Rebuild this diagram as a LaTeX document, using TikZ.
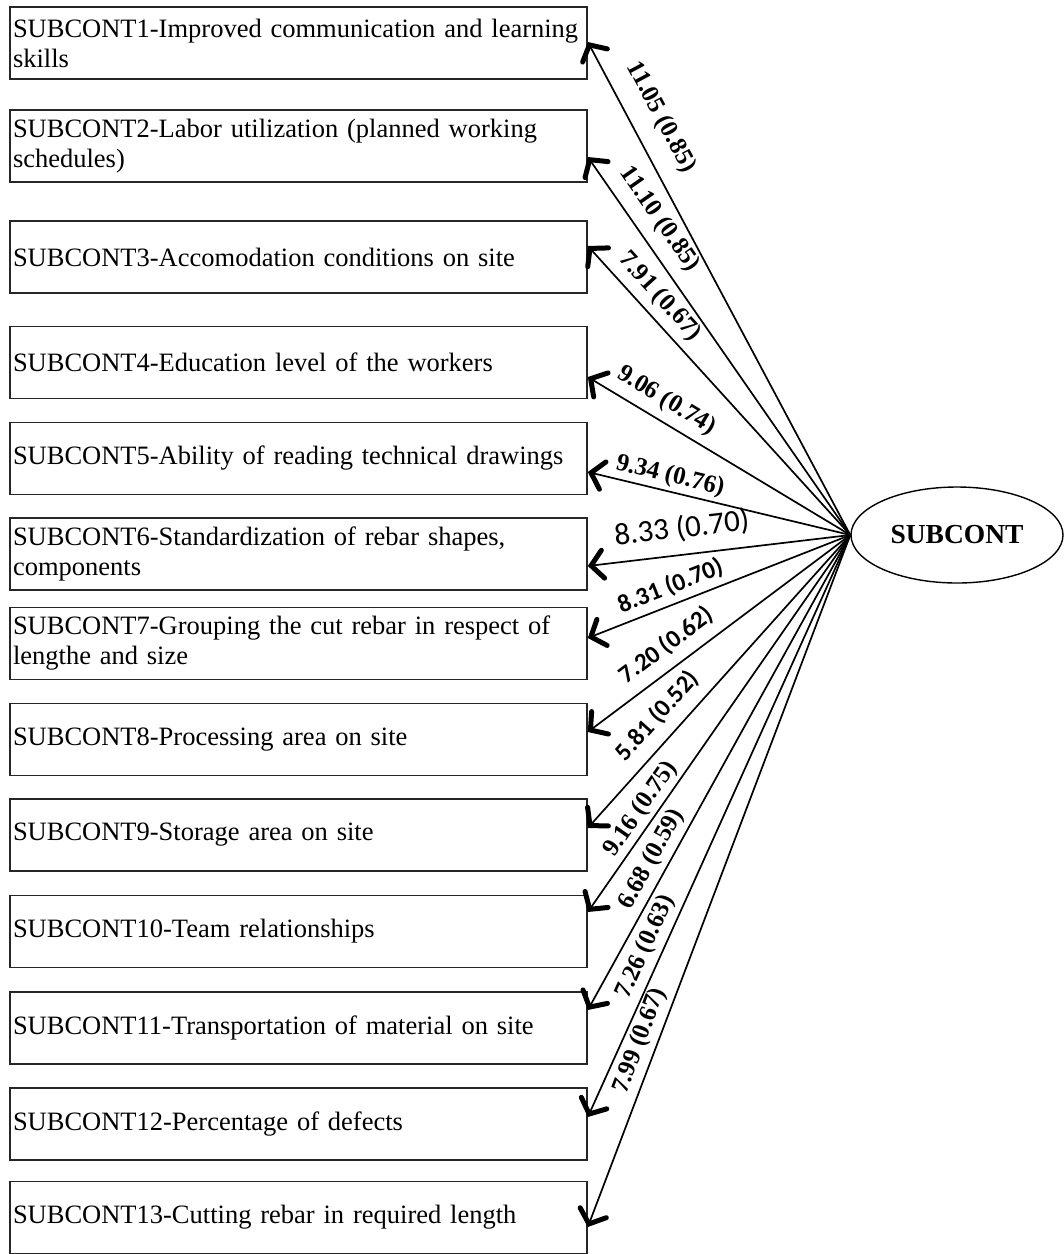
\documentclass[tikz,border=0pt]{standalone}
\usepackage{fontspec}
\setmainfont{Liberation Serif}
\newfontfamily\labsans{Carlito}
\usetikzlibrary{arrows.meta,shapes.geometric}

\begin{document}
\begin{tikzpicture}[x=1pt,y=-1pt,
  item/.style={draw=black!85, line width=1.6pt, rectangle,
    minimum width=577pt, minimum height=72pt, text width=571pt,
    inner xsep=3pt, inner ysep=0pt, align=left,
    execute at begin node={\hyphenpenalty=10000\relax},
    font=\fontsize{26.5}{30}\selectfont},
  latent/.style={draw, ellipse, line width=1.4pt, minimum width=212pt,
    minimum height=96pt, inner sep=0pt,
    font=\bfseries\fontsize{27.5}{30}\selectfont},
  loading/.style={line width=1.7pt,
    -{Straight Barb[length=12pt,width=28pt,line width=5pt,line cap=round]}},
  lab/.style={sloped, inner sep=2pt, font=\bfseries\fontsize{25}{25}\selectfont},
  labs/.style={sloped, inner sep=2pt, font=\labsans\bfseries\fontsize{25}{25}\selectfont}
]
\useasboundingbox (0,0) rectangle (1064,1254);

% indicator boxes
\node[item] (b1)  at (298.5,43)    {SUBCONT1-Improved communication and learning\\skills};
\node[item] (b2)  at (298.5,146)   {SUBCONT2-Labor utilization (planned working\\schedules)};
\node[item] (b3)  at (298.5,257)   {SUBCONT3-Accomodation conditions on site};
\node[item] (b4)  at (298.5,362.5) {SUBCONT4-Education level of the workers};
\node[item] (b5)  at (298.5,458.5) {SUBCONT5-Ability of reading technical drawings};
\node[item] (b6)  at (298.5,554)   {SUBCONT6-Standardization of rebar shapes,\\components};
\node[item] (b7)  at (298.5,643.5) {SUBCONT7-Grouping the cut rebar in respect of\\lengthe and size};
\node[item] (b8)  at (298.5,739.5) {SUBCONT8-Processing area on site};
\node[item] (b9)  at (298.5,835)   {SUBCONT9-Storage area on site};
\node[item] (b10) at (298.5,931.5) {SUBCONT10-Team relationships};
\node[item] (b11) at (298.5,1028)  {SUBCONT11-Transportation of material on site};
\node[item] (b12) at (298.5,1124)  {SUBCONT12-Percentage of defects};
\node[item] (b13) at (298.5,1217.5){SUBCONT13-Cutting rebar in required length};

% latent construct
\node[latent] (sc) at (957,535) {SUBCONT};

% loadings
\draw[loading] (sc.west) -- ([yshift=1pt]b1.east)     node[lab, pos=0.82, above=15pt] {11.05 (0.85)};
\draw[loading] (sc.west) -- ([yshift=-11pt]b2.east)   node[lab, pos=0.80, above=9pt]  {11.10 (0.85)};
\draw[loading] (sc.west) -- ([yshift=11pt]b3.east)    node[lab, pos=0.78, above=5pt]  {7.91 (0.67)};
\draw[loading] (sc.west) -- ([yshift=-14.5pt]b4.east) node[lab, pos=0.74, above=6pt]  {9.06 (0.74)};
\draw[loading] (sc.west) -- ([yshift=-13.5pt]b5.east) node[lab, pos=0.70, above=1pt]  {9.34 (0.76)};
\draw[loading] (sc.west) -- ([yshift=-12pt]b6.east)   node[labs, pos=0.63, above=10pt, font=\labsans\fontsize{31}{31}\selectfont] {8.33 (0.70)};
\draw[loading] (sc.west) -- ([yshift=5.5pt]b7.east)   node[labs, pos=0.66, above=4pt]  {8.31 (0.70)};
\draw[loading] (sc.west) -- ([yshift=7.5pt]b8.east)   node[labs, pos=0.65, above=8pt]  {7.20 (0.62)};
\draw[loading] (sc.west) -- ([yshift=7pt]b9.east)     node[labs, pos=0.67, above=9pt]  {5.81 (0.52)};
\draw[loading] (sc.west) -- ([yshift=19.5pt]b10.east) node[lab, pos=0.75, above=1pt]  {9.16 (0.75)};
\draw[loading] (sc.west) -- ([yshift=18pt]b11.east)   node[lab, pos=0.70, above=3pt]  {6.68 (0.59)};
\draw[loading] (sc.west) -- ([yshift=7pt]b12.east)    node[lab, pos=0.72, above=3pt]  {7.26 (0.63)};
\draw[loading] (sc.west) -- ([yshift=-9.5pt]b13.east) node[lab, pos=0.74, above=3pt]  {7.99 (0.67)};
\end{tikzpicture}
\end{document}
